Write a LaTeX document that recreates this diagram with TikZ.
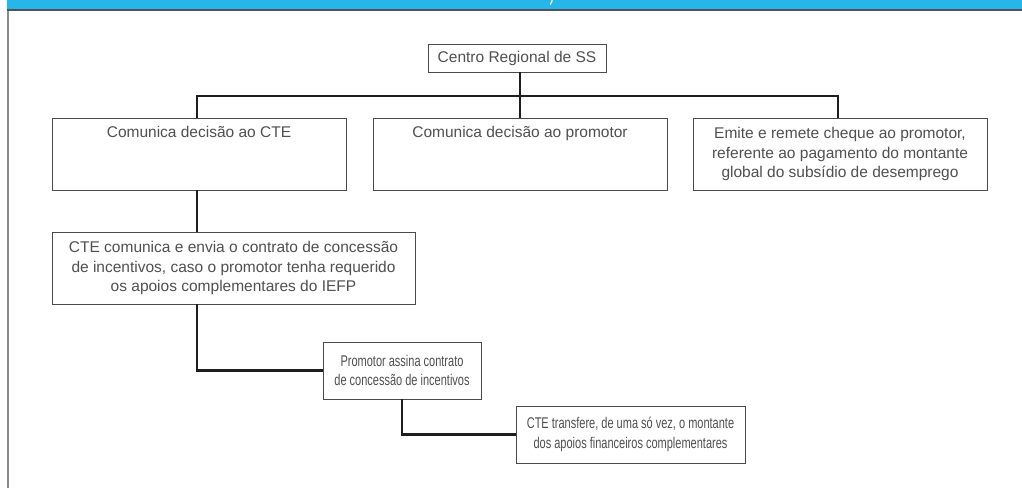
\documentclass[tikz,border=0pt]{standalone}
\usepackage{fontspec}
\setmainfont{Liberation Sans}
\newfontfamily\condfont[FakeStretch=0.71]{Liberation Sans}
\definecolor{bandblue}{HTML}{27B6E9}
\definecolor{bandline}{HTML}{4F5355}
\definecolor{sidegray}{HTML}{8A8A8A}
\definecolor{boxgray}{HTML}{4A4A4A}
\definecolor{txtgray}{HTML}{505050}
\definecolor{linkdark}{HTML}{1E1E1E}
\begin{document}
\begin{tikzpicture}[x=1pt,y=-1pt,
  stepbox/.style={draw=boxgray, line width=0.9pt, fill=white, inner sep=0pt,
    text=txtgray, align=center,
    font=\fontsize{15.5}{19.4}\selectfont},
  condbox/.style={stepbox, font=\condfont\fontsize{15.5}{19.4}\selectfont},
  link/.style={draw=linkdark, line width=2.4pt}]
\useasboundingbox (0,0) rectangle (1022,488);
% header band
\fill[bandblue] (7,0) rectangle (1022,8.5);
\fill[bandline] (7,8.5) rectangle (1022,10.5);
\draw[white, line width=1.3pt] (552.2,0.3) -- (550.3,4.6);
\fill[sidegray] (7,10.5) rectangle (9.2,488);
% boxes
\node[stepbox, minimum width=178pt, minimum height=28pt] (b0) at (517,58) {Centro Regional de SS};
\node[stepbox, minimum width=294pt, minimum height=72pt] (b1) at (199,154) {Comunica decisão ao CTE\\\strut\\\strut};
\node[stepbox, minimum width=294pt, minimum height=72pt] (b2) at (520,154) {Comunica decisão ao promotor\\\strut\\\strut};
\node[stepbox, minimum width=294pt, minimum height=72pt] (b3) at (840,154) {Emite e remete cheque ao promotor,\\referente ao pagamento do montante\\global do subsídio de desemprego};
\node[stepbox, minimum width=363pt, minimum height=72pt] (b4) at (233.5,268) {CTE comunica e envia o contrato de concessão\\de incentivos, caso o promotor tenha requerido\\os apoios complementares do IEFP};
\node[condbox, minimum width=158pt, minimum height=57pt] (b5) at (402,370.5) {Promotor assina contrato\\de concessão de incentivos};
\node[condbox, minimum width=229pt, minimum height=57pt] (b6) at (630.5,434.5) {CTE transfere, de uma só vez, o montante\\dos apoios financeiros complementares};
% connectors
\coordinate (bar) at (520,96);
\draw[link] (b0.south -| b2.north) -- (b2.north);
\draw[link] ([xshift=-2pt]b1.north) -- ([xshift=-2pt]b1.north |- bar) -- ([xshift=-2pt]b3.north |- bar) -- ([xshift=-2pt]b3.north);
\draw[link] ([xshift=-2pt]b1.south) -- ([xshift=-2pt]b1.south |- b4.north);
\draw[link] ([xshift=-2pt]b1.south |- b4.south) |- (b5.west);
\draw[link] (b5.south) |- (b6.west);
\end{tikzpicture}
\end{document}
